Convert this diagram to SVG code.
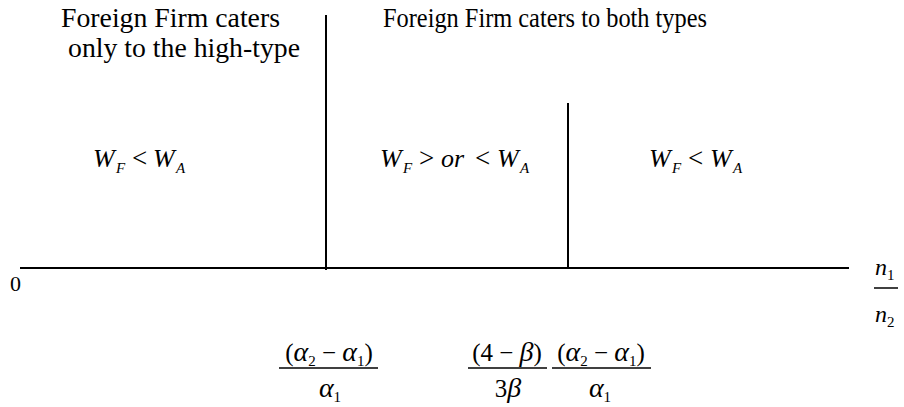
<svg xmlns="http://www.w3.org/2000/svg" width="904" height="407" viewBox="0 0 904 407">
<defs>
<style>
.m{font-style:italic;font-size:26px}
.s{font-style:italic;font-size:15px}
.u{font-size:27px}
.f{font-size:25px}
.fi{font-style:italic;font-size:28px}
.fs{font-size:15px}
.ln{stroke:#000;stroke-width:2;fill:none}
.bar{stroke:#000;stroke-width:1.5;fill:none}
</style>
</defs>
<g id="connectors">
<line class="ln" x1="20" y1="268" x2="849" y2="268"/>
<line class="ln" x1="326" y1="15" x2="326" y2="270"/>
<line class="ln" x1="568" y1="103" x2="568" y2="268"/>
</g>
<g id="title-left">
<text font-family="Liberation Serif" x="61" y="27" font-size="27" textLength="219" lengthAdjust="spacingAndGlyphs">Foreign Firm caters</text>
<text font-family="Liberation Serif" x="68" y="57" font-size="27" textLength="232" lengthAdjust="spacingAndGlyphs">only to the high-type</text>
</g>
<g id="title-right">
<text font-family="Liberation Serif" x="383" y="27" font-size="27" textLength="324" lengthAdjust="spacingAndGlyphs">Foreign Firm caters to both types</text>
</g>
<g id="label-left">
<text font-family="Liberation Serif" class="m" x="93" y="167">W</text><text font-family="Liberation Serif" class="s" x="116" y="173">F</text>
<text font-family="Liberation Serif" class="u" x="132" y="167">&lt;</text>
<text font-family="Liberation Serif" class="m" x="153" y="167">W</text><text font-family="Liberation Serif" class="s" x="176" y="173">A</text>
</g>
<g id="label-middle">
<text font-family="Liberation Serif" class="m" x="380" y="167">W</text><text font-family="Liberation Serif" class="s" x="403" y="173">F</text>
<text font-family="Liberation Serif" class="u" x="419" y="167">&gt;</text>
<text font-family="Liberation Serif" class="m" x="441" y="167">or</text>
<text font-family="Liberation Serif" class="u" x="475" y="167">&lt;</text>
<text font-family="Liberation Serif" class="m" x="497" y="167">W</text><text font-family="Liberation Serif" class="s" x="520" y="173">A</text>
</g>
<g id="label-right">
<text font-family="Liberation Serif" class="m" x="649" y="167">W</text><text font-family="Liberation Serif" class="s" x="672" y="173">F</text>
<text font-family="Liberation Serif" class="u" x="688" y="167">&lt;</text>
<text font-family="Liberation Serif" class="m" x="710" y="167">W</text><text font-family="Liberation Serif" class="s" x="733" y="173">A</text>
</g>
<g id="origin">
<text font-family="Liberation Serif" x="10" y="291" font-size="22">0</text>
</g>
<g id="axis-label">
<text font-family="Liberation Serif" font-style="italic" x="875" y="275" font-size="24">n</text><text font-family="Liberation Serif" class="fs" x="887" y="280">1</text>
<line class="bar" x1="874" y1="288" x2="898" y2="288"/>
<text font-family="Liberation Serif" font-style="italic" x="875" y="322" font-size="24">n</text><text font-family="Liberation Serif" class="fs" x="887" y="327">2</text>
</g>
<g id="threshold-1">
<text font-family="Liberation Serif" class="f" x="329" y="361" text-anchor="middle">(<tspan class="fi">α</tspan><tspan class="fs" dy="5">2</tspan><tspan dy="-5"> − </tspan><tspan class="fi">α</tspan><tspan class="fs" dy="5">1</tspan><tspan dy="-5">)</tspan></text>
<line class="bar" x1="279" y1="368" x2="378" y2="368"/>
<text font-family="Liberation Serif" class="f" x="330" y="397" text-anchor="middle"><tspan class="fi">α</tspan><tspan class="fs" dy="5">1</tspan></text>
</g>
<g id="threshold-2">
<text font-family="Liberation Serif" class="f" x="507" y="361" text-anchor="middle">(4 − <tspan class="fi">β</tspan>)</text>
<line class="bar" x1="468" y1="368" x2="547" y2="368"/>
<text font-family="Liberation Serif" class="f" x="508" y="397" text-anchor="middle">3<tspan class="fi">β</tspan></text>
<text font-family="Liberation Serif" class="f" x="601" y="361" text-anchor="middle">(<tspan class="fi">α</tspan><tspan class="fs" dy="5">2</tspan><tspan dy="-5"> − </tspan><tspan class="fi">α</tspan><tspan class="fs" dy="5">1</tspan><tspan dy="-5">)</tspan></text>
<line class="bar" x1="552" y1="368" x2="651" y2="368"/>
<text font-family="Liberation Serif" class="f" x="600" y="397" text-anchor="middle"><tspan class="fi">α</tspan><tspan class="fs" dy="5">1</tspan></text>
</g>
</svg>
